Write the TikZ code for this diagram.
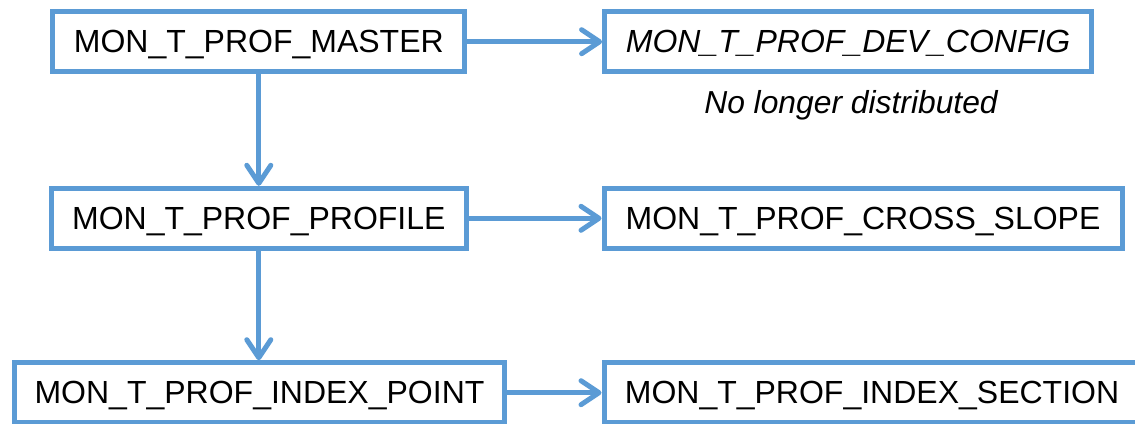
\documentclass[tikz,border=0pt]{standalone}
\usepackage{fontspec}
\setmainfont{Liberation Sans}
\usetikzlibrary{arrows.meta}
\definecolor{lineblue}{HTML}{5B9BD5}
\tikzset{
  tbl/.style={draw=lineblue, line width=5pt, fill=white, minimum height=60pt,
    inner sep=0pt, text height=22.5pt, text depth=0pt,
    font=\fontsize{32}{36}\selectfont, text=black},
  link/.style={draw=lineblue, line width=5pt,
    -{Straight Barb[length=18pt,width=24pt,round]}},
  note/.style={font=\fontsize{31.8}{36}\selectfont\itshape, text=black, inner sep=0pt,
    text height=22.5pt, text depth=0pt}
}
\begin{document}
\begin{tikzpicture}[x=1pt,y=-1pt]
\useasboundingbox (0,0) rectangle (1135,423);
\node[tbl, minimum width=412pt] (b1) at (258.8,41.7) {MON\_T\_PROF\_MASTER};
\node[tbl, minimum width=487pt] (b2) at (848.1,41.7) {\itshape MON\_T\_PROF\_DEV\_CONFIG};
\node[note] (n1) at (851,102) {No longer distributed};
\node[tbl, minimum width=415.6pt] (b3) at (258.8,218.3) {MON\_T\_PROF\_PROFILE};
\node[tbl, minimum width=518pt] (b4) at (863,218.3) {MON\_T\_PROF\_CROSS\_SLOPE};
\node[tbl, minimum width=490pt] (b5) at (259.5,392.7) {MON\_T\_PROF\_INDEX\_POINT};
\node[tbl, minimum width=536pt] (b6) at (872,392.7) {MON\_T\_PROF\_INDEX\_SECTION};
\draw[link] (b1.east) -- (b2.west);
\draw[link] (b3.east) -- (b4.west);
\draw[link] (b5.east) -- (b6.west);
\draw[link] (b1.south) -- (b1.south |- b3.north);
\draw[link] (b3.south) -- (b3.south |- b5.north);
\end{tikzpicture}
\end{document}
